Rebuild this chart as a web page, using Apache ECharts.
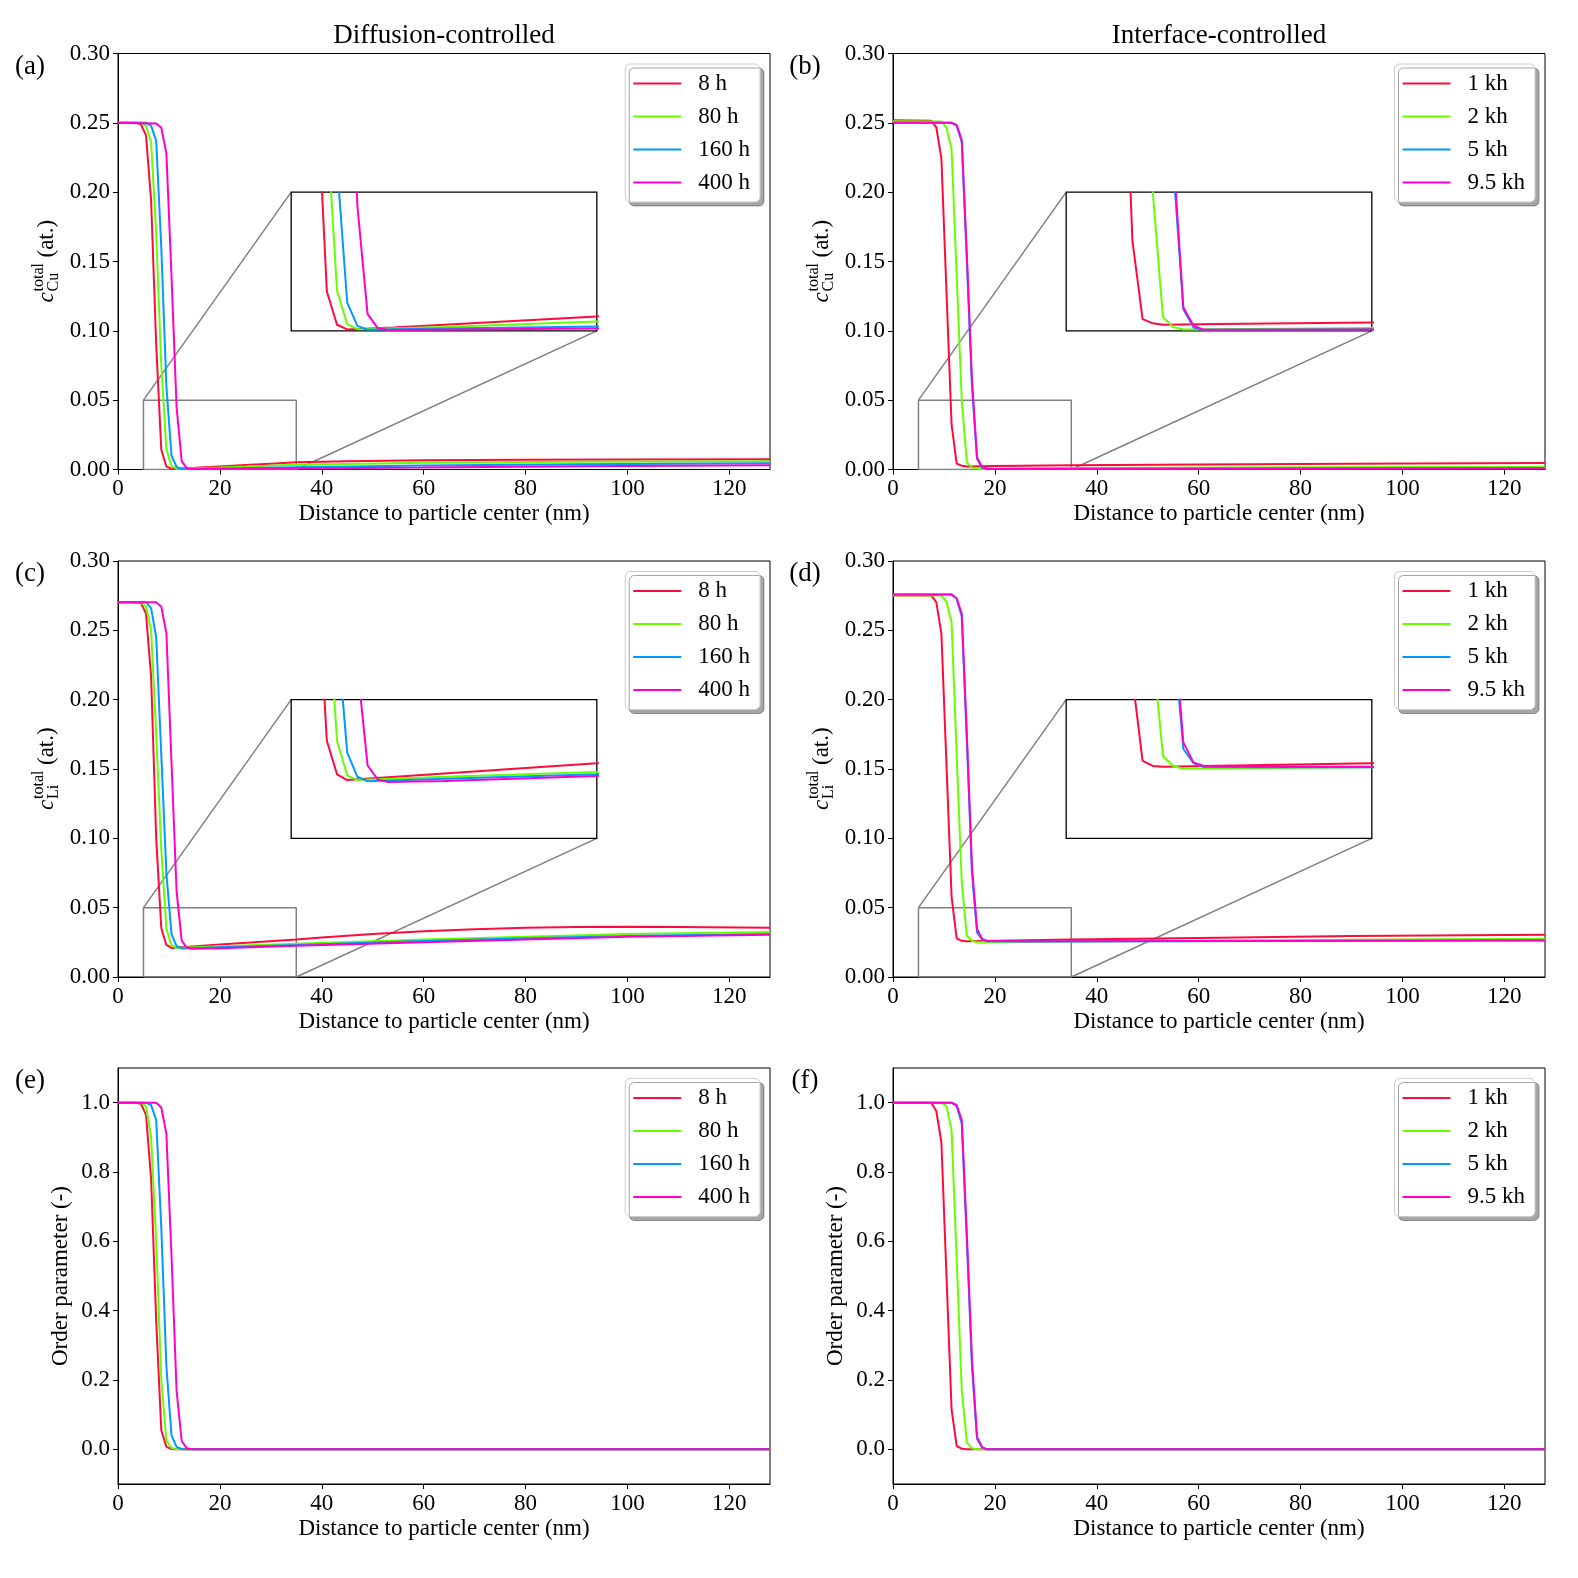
<!DOCTYPE html>
<html>
<head>
<meta charset="utf-8">
<title>Concentration and order parameter profiles</title>
<script src="https://cdn.jsdelivr.net/npm/echarts@6/dist/echarts.min.js"></script>
<style>
  html, body { margin: 0; padding: 0; background: #fff; }
  #chart { width: 1578px; height: 1578px; }
</style>
</head>
<body>
<div id="chart"></div>
<script>
// legend names
var timesDiff = ['8 h', '80 h', '160 h', '400 h'];
var timesIntf = ['1 kh', '2 kh', '5 kh', '9.5 kh'];

// tick labels
var xTicks = [0, 20, 40, 60, 80, 100, 120];
var orderTicks = [0, 0.2, 0.4, 0.6, 0.8, 1.0];

// zoomed region and where its inset sits (data units of the main axes)
var zoomX = [5, 35];
var zoomY = [0, 0.05];
var insetAtX = [34, 94];
var insetAtY = [0.1, 0.2];

// (a) total Cu, diffusion-controlled  [distance nm, c]
var cuDiff8h = [[0,0.25],[3.5,0.25],[4.5,0.249],[5.5,0.241],[6.5,0.194],[7.5,0.09],[8.5,0.0142],[9.5,0.0022],[10.5,0.0005],[15,0.0012],[20,0.0022],[25,0.0032],[30,0.0042],[35,0.0052],[45,0.006],[60,0.0066],[80,0.007],[100,0.0073],[128,0.0074]];
var cuDiff80h = [[0,0.25],[4.5,0.25],[5.5,0.248],[6.5,0.236],[7.5,0.17],[8.5,0.075],[9.5,0.0145],[10.5,0.0024],[11.5,0.0006],[20,0.0014],[35,0.0034],[60,0.0048],[90,0.0055],[128,0.0059]];
var cuDiff160h = [[0,0.25],[5.5,0.25],[6.5,0.248],[7.5,0.237],[8.5,0.16],[9.5,0.06],[10.5,0.0102],[11.5,0.0018],[12.5,0.0004],[20,0.0008],[35,0.0016],[60,0.0028],[90,0.0038],[128,0.0045]];
var cuDiff400h = [[0,0.25],[7.5,0.2495],[8.5,0.2465],[9.5,0.228],[10.5,0.14],[11.5,0.045],[12.5,0.006],[13.5,0.001],[14.5,0.0003],[35,0.0008],[60,0.0015],[90,0.0024],[128,0.003]];

// (b) total Cu, interface-controlled
var cuIntf1kh = [[0,0.2518],[7.5,0.2515],[8.5,0.2468],[9.5,0.2244],[10.5,0.128],[11.5,0.0325],[12.5,0.0042],[13.5,0.0027],[14.5,0.0022],[20,0.0025],[35,0.003],[60,0.0036],[90,0.0042],[128,0.0047]];
var cuIntf2kh = [[0,0.2512],[9.5,0.251],[10.5,0.2465],[11.5,0.231],[12.5,0.14],[13.5,0.05],[14.5,0.005],[15.5,0.0014],[16.5,0.0005],[35,0.001],[80,0.0016],[128,0.002]];
var cuIntf5kh = [[0,0.25],[11.5,0.25],[12.5,0.248],[13.5,0.236],[14.5,0.15],[15.5,0.06],[16.5,0.0078],[17.5,0.0012],[18.5,0.0004],[60,0.0007],[128,0.001]];
var cuIntf9kh = [[0,0.25],[11.5,0.25],[12.5,0.2485],[13.5,0.2375],[14.5,0.155],[15.5,0.065],[16.5,0.0084],[17.5,0.0018],[18.5,0.0004],[60,0.0006],[128,0.0008]];

// (c) total Li, diffusion-controlled
var liDiff8h = [[0,0.2703],[3.5,0.2703],[4.5,0.2698],[5.5,0.262],[6.5,0.2166],[7.5,0.1],[8.5,0.0352],[9.5,0.0231],[10.5,0.021],[20,0.0234],[35,0.0271],[40,0.0285],[50,0.031],[60,0.033],[70,0.0345],[80,0.0355],[90,0.036],[100,0.0362],[110,0.036],[128,0.0355]];
var liDiff80h = [[0,0.2703],[4.5,0.2703],[5.5,0.267],[6.5,0.25],[7.5,0.175],[8.5,0.092],[9.5,0.0352],[10.5,0.0227],[11.5,0.021],[20,0.0222],[35,0.0239],[60,0.027],[80,0.029],[100,0.031],[128,0.0325]];
var liDiff160h = [[0,0.2703],[5.5,0.2703],[6.5,0.266],[7.5,0.245],[8.5,0.16],[9.5,0.075],[10.5,0.0309],[11.5,0.0222],[12.5,0.0206],[20,0.0215],[35,0.0231],[60,0.026],[80,0.028],[100,0.0295],[128,0.031]];
var liDiff400h = [[0,0.2703],[7.5,0.2703],[8.5,0.267],[9.5,0.248],[10.5,0.155],[11.5,0.062],[12.5,0.0263],[13.5,0.0212],[14.5,0.0203],[20,0.0207],[35,0.0225],[60,0.025],[80,0.027],[100,0.029],[128,0.0305]];

// (d) total Li, interface-controlled
var liIntf1kh = [[0,0.2752],[7.5,0.2752],[8.5,0.2703],[9.5,0.2476],[10.5,0.153],[11.5,0.058],[12.5,0.0279],[13.5,0.0261],[14.5,0.0258],[20,0.0262],[35,0.0271],[60,0.0282],[90,0.0295],[128,0.0305]];
var liIntf2kh = [[0,0.2752],[9.5,0.2752],[10.5,0.2705],[11.5,0.256],[12.5,0.16],[13.5,0.068],[14.5,0.0297],[15.5,0.0261],[16.5,0.0251],[25,0.0254],[35,0.0256],[60,0.0262],[90,0.0268],[128,0.0275]];
var liIntf5kh = [[0,0.2758],[11.5,0.2758],[12.5,0.2727],[13.5,0.26],[14.5,0.17],[15.5,0.075],[16.5,0.0322],[17.5,0.0271],[18.5,0.0257],[25,0.0256],[60,0.0258],[128,0.0265]];
var liIntf9kh = [[0,0.2758],[11.5,0.2758],[12.5,0.273],[13.5,0.262],[14.5,0.175],[15.5,0.08],[16.5,0.0346],[17.5,0.0273],[18.5,0.0261],[25,0.0258],[60,0.0259],[128,0.0264]];

// (e) order parameter, diffusion-controlled
var opDiff8h = [[0,1],[3.5,1],[4.5,0.997],[5.5,0.965],[6.5,0.78],[7.5,0.37],[8.5,0.055],[9.5,0.007],[10.5,0.001],[11.5,0],[128,0]];
var opDiff80h = [[0,1],[4.5,1],[5.5,0.99],[6.5,0.9],[7.5,0.6],[8.5,0.2],[9.5,0.025],[10.5,0.004],[11.5,0.001],[12.5,0],[128,0]];
var opDiff160h = [[0,1],[5.5,1],[6.5,0.993],[7.5,0.95],[8.5,0.64],[9.5,0.24],[10.5,0.04],[11.5,0.007],[12.5,0.001],[13.5,0],[128,0]];
var opDiff400h = [[0,1],[7.5,1],[8.5,0.986],[9.5,0.91],[10.5,0.56],[11.5,0.17],[12.5,0.024],[13.5,0.003],[14.5,0],[128,0]];

// (f) order parameter, interface-controlled
var opIntf1kh = [[0,1],[7.5,1],[8.5,0.976],[9.5,0.885],[10.5,0.5],[11.5,0.115],[12.5,0.01],[13.5,0.0015],[14.5,0],[128,0]];
var opIntf2kh = [[0,1],[9.5,1],[10.5,0.99],[11.5,0.92],[12.5,0.55],[13.5,0.17],[14.5,0.02],[15.5,0.003],[16.5,0],[128,0]];
var opIntf5kh = [[0,1],[11.5,1],[12.5,0.99],[13.5,0.94],[14.5,0.6],[15.5,0.24],[16.5,0.03],[17.5,0.005],[18.5,0],[128,0]];
var opIntf9kh = [[0,1],[11.5,1],[12.5,0.993],[13.5,0.95],[14.5,0.62],[15.5,0.26],[16.5,0.036],[17.5,0.006],[18.5,0],[128,0]];

// layout / style
var FONT = '"Liberation Serif", "DejaVu Serif", serif';
var COLORS = ['#ff0a3c', '#66ff00', '#0099ff', '#ff00cc'];
var PAGE_W = 1578;
var GRID_W = 652, GRID_H = 416;
var COL_LEFT = [118, 893];
var ROW_TOP = [53.5, 561, 1068];
var X_RANGE = [0, 128];

var panels = [
  { label: '(a)', lines: [cuDiff8h, cuDiff80h, cuDiff160h, cuDiff400h], names: timesDiff, kind: 'Cu' },
  { label: '(b)', lines: [cuIntf1kh, cuIntf2kh, cuIntf5kh, cuIntf9kh], names: timesIntf, kind: 'Cu' },
  { label: '(c)', lines: [liDiff8h, liDiff80h, liDiff160h, liDiff400h], names: timesDiff, kind: 'Li' },
  { label: '(d)', lines: [liIntf1kh, liIntf2kh, liIntf5kh, liIntf9kh], names: timesIntf, kind: 'Li' },
  { label: '(e)', lines: [opDiff8h, opDiff80h, opDiff160h, opDiff400h], names: timesDiff, kind: 'order' },
  { label: '(f)', lines: [opIntf1kh, opIntf2kh, opIntf5kh, opIntf9kh], names: timesIntf, kind: 'order' }
];

function txt(size) {
  return { fontFamily: FONT, fontSize: size, color: '#000' };
}

function concLabel(x, y, elem) {
  // c^{total}_{elem} (at.), rotated to read bottom-to-top
  return {
    type: 'group', x: x, y: y, rotation: Math.PI / 2,
    children: [
      { type: 'text', x: -41, y: 0, style: { text: 'c', font: 'italic 23px ' + FONT, fill: '#000', align: 'left', verticalAlign: 'middle' } },
      { type: 'text', x: -30, y: -8, style: { text: 'total', font: '16px ' + FONT, fill: '#000', align: 'left', verticalAlign: 'middle' } },
      { type: 'text', x: -30, y: 7, style: { text: elem, font: '16px ' + FONT, fill: '#000', align: 'left', verticalAlign: 'middle' } },
      { type: 'text', x: 4, y: 0, style: { text: '(at.)', font: '23px ' + FONT, fill: '#000', align: 'left', verticalAlign: 'middle' } }
    ]
  };
}

var grid = [], xAxis = [], yAxis = [], series = [], legend = [], graphic = [];

graphic.push({ type: 'text', x: COL_LEFT[0] + GRID_W / 2, y: 36, style: { text: 'Diffusion-controlled', font: '27px ' + FONT, fill: '#000', align: 'center', verticalAlign: 'middle' } });
graphic.push({ type: 'text', x: COL_LEFT[1] + GRID_W / 2, y: 36, style: { text: 'Interface-controlled', font: '27px ' + FONT, fill: '#000', align: 'center', verticalAlign: 'middle' } });

panels.forEach(function (p, i) {
  var col = i % 2, row = Math.floor(i / 2);
  var left = COL_LEFT[col], top = ROW_TOP[row];
  var isOrder = p.kind === 'order';
  var yRange = isOrder ? [-0.1, 1.1] : [0, 0.3];

  var gi = grid.length;
  grid.push({ left: left, top: top, width: GRID_W, height: GRID_H, show: true, borderColor: '#000', borderWidth: 1, backgroundColor: 'transparent' });
  xAxis.push({
    type: 'value', gridIndex: gi, min: X_RANGE[0], max: X_RANGE[1],
    name: 'Distance to particle center (nm)', nameLocation: 'middle', nameGap: 33, nameTextStyle: txt(23),
    axisLine: { show: true, onZero: false, lineStyle: { color: '#000', width: 1 } },
    axisTick: { show: true, length: 5, lineStyle: { color: '#000' }, customValues: xTicks },
    axisLabel: Object.assign(txt(23), { margin: 8, customValues: xTicks }),
    splitLine: { show: false }
  });
  var ya = {
    type: 'value', gridIndex: gi, min: yRange[0], max: yRange[1],
    axisLine: { show: true, onZero: false, lineStyle: { color: '#000', width: 1 } },
    axisTick: { show: true, length: 5, lineStyle: { color: '#000' } },
    axisLabel: Object.assign(txt(23), { margin: 8 }),
    splitLine: { show: false }
  };
  if (isOrder) {
    ya.axisTick.customValues = orderTicks;
    ya.axisLabel.customValues = orderTicks;
    ya.axisLabel.formatter = function (v) { return v.toFixed(1); };
  } else {
    ya.interval = 0.05;
    ya.axisLabel.formatter = function (v) { return v.toFixed(2); };
  }
  yAxis.push(ya);

  p.lines.forEach(function (d, k) {
    series.push({
      type: 'line', name: p.names[k], xAxisIndex: gi, yAxisIndex: gi, data: d,
      symbol: 'none', z: 3, lineStyle: { color: COLORS[k], width: 2 }, itemStyle: { color: COLORS[k] }
    });
  });

  legend.push({
    data: p.names, orient: 'vertical', selectedMode: false,
    right: PAGE_W - (left + GRID_W - 10), top: top + 10.5,
    icon: 'rect', itemWidth: 48, itemHeight: 2, itemGap: 10,
    textStyle: Object.assign(txt(23), { padding: [0, 0, 0, 12] }),
    backgroundColor: '#fff', borderColor: '#cccccc', borderWidth: 1, borderRadius: 5,
    padding: [8, 10, 8, 8],
    shadowColor: 'rgba(0,0,0,0.35)', shadowBlur: 0, shadowOffsetX: 4, shadowOffsetY: 4
  });

  graphic.push({ type: 'text', x: left - 88, y: top + 13, style: { text: p.label, font: '27px ' + FONT, fill: '#000', align: 'center', verticalAlign: 'middle' } });
  if (isOrder) {
    graphic.push({ type: 'text', x: left - 57, y: top + GRID_H / 2, rotation: Math.PI / 2, style: { text: 'Order parameter (-)', font: '23px ' + FONT, fill: '#000', align: 'center', verticalAlign: 'middle' } });
  } else {
    graphic.push(concLabel(left - 71, top + GRID_H / 2, p.kind));

    // zoom box and connectors on the main axes
    var gray = { color: '#808080', width: 1.5 };
    [
      [[zoomX[0], zoomY[0]], [zoomX[1], zoomY[0]], [zoomX[1], zoomY[1]], [zoomX[0], zoomY[1]], [zoomX[0], zoomY[0]]],
      [[zoomX[0], zoomY[1]], [insetAtX[0], insetAtY[1]]],
      [[zoomX[1], zoomY[0]], [insetAtX[1], insetAtY[0]]]
    ].forEach(function (d) {
      series.push({ type: 'line', xAxisIndex: gi, yAxisIndex: gi, data: d, symbol: 'none', silent: true, z: 1, lineStyle: gray });
    });

    // inset axes
    var sx = GRID_W / (X_RANGE[1] - X_RANGE[0]);
    var sy = GRID_H / (yRange[1] - yRange[0]);
    var ii = grid.length;
    grid.push({
      left: left + (insetAtX[0] - X_RANGE[0]) * sx,
      top: top + (yRange[1] - insetAtY[1]) * sy,
      width: (insetAtX[1] - insetAtX[0]) * sx,
      height: (insetAtY[1] - insetAtY[0]) * sy,
      show: true, borderColor: '#000', borderWidth: 1.3, backgroundColor: '#fff', z: 4
    });
    xAxis.push({ type: 'value', gridIndex: ii, min: zoomX[0], max: zoomX[1], show: false, splitLine: { show: false } });
    yAxis.push({ type: 'value', gridIndex: ii, min: zoomY[0], max: zoomY[1], show: false, splitLine: { show: false } });
    p.lines.forEach(function (d, k) {
      series.push({
        type: 'line', name: p.names[k], xAxisIndex: ii, yAxisIndex: ii, data: d,
        symbol: 'none', z: 5, clip: true, lineStyle: { color: COLORS[k], width: 2 }, itemStyle: { color: COLORS[k] }
      });
    });
  }
});

var chart = echarts.init(document.getElementById('chart'), null, { renderer: 'canvas' });
chart.setOption({
  animation: false,
  backgroundColor: '#fff',
  grid: grid,
  xAxis: xAxis,
  yAxis: yAxis,
  legend: legend,
  graphic: graphic,
  series: series
});
</script>
</body>
</html>
